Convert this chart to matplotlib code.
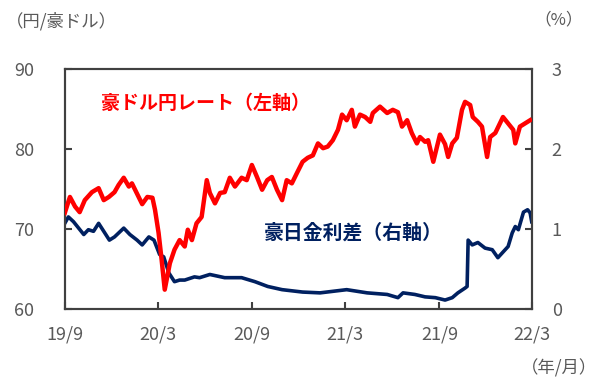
import matplotlib
matplotlib.use('Agg')
import matplotlib.pyplot as plt
import pandas as pd

plt.rcParams['font.family'] = ['Noto Sans CJK JP', 'DejaVu Sans']

# 豪ドル円レート (円/豪ドル, 左軸)
fx_dates = ['2019-09-01', '2019-09-11', '2019-09-21', '2019-09-30', '2019-10-10',
            '2019-10-24', '2019-11-06', '2019-11-16', '2019-11-26', '2019-12-07',
            '2019-12-15', '2019-12-25', '2020-01-04', '2020-01-10', '2020-01-20',
            '2020-01-30', '2020-02-09', '2020-02-19', '2020-02-24', '2020-03-02',
            '2020-03-08', '2020-03-14', '2020-03-24', '2020-04-02', '2020-04-12',
            '2020-04-22', '2020-04-28', '2020-05-06', '2020-05-15', '2020-05-25',
            '2020-06-04', '2020-06-10', '2020-06-20', '2020-06-30', '2020-07-09',
            '2020-07-19', '2020-07-29', '2020-08-11', '2020-08-21', '2020-08-31',
            '2020-09-10', '2020-09-20', '2020-09-30', '2020-10-09', '2020-10-19',
            '2020-10-29', '2020-11-07', '2020-11-17', '2020-11-27', '2020-12-08',
            '2020-12-18', '2020-12-28', '2021-01-07', '2021-01-17', '2021-01-26',
            '2021-02-05', '2021-02-15', '2021-02-23', '2021-03-04', '2021-03-14',
            '2021-03-20', '2021-03-30', '2021-04-09', '2021-04-19', '2021-04-24',
            '2021-05-08', '2021-05-22', '2021-06-02', '2021-06-12', '2021-06-20',
            '2021-06-30', '2021-07-09', '2021-07-19', '2021-07-25', '2021-08-04',
            '2021-08-10', '2021-08-20', '2021-09-02', '2021-09-12', '2021-09-18',
            '2021-09-26', '2021-10-05', '2021-10-15', '2021-10-21', '2021-10-31',
            '2021-11-05', '2021-11-15', '2021-11-23', '2021-12-03', '2021-12-09',
            '2021-12-19', '2022-01-03', '2022-01-13', '2022-01-23', '2022-01-27',
            '2022-02-05', '2022-02-15', '2022-02-25']
fx_values = [72.0, 74.0, 72.8, 72.1, 73.6,
             74.6, 75.1, 73.6, 74.0, 74.6,
             75.5, 76.4, 75.3, 75.7, 74.4,
             73.1, 74.0, 73.9, 72.4, 69.5,
             66.1, 62.4, 65.7, 67.4, 68.6,
             67.8, 69.9, 68.6, 70.7, 71.5,
             76.1, 74.5, 73.2, 74.5, 74.6,
             76.4, 75.3, 76.4, 76.1, 78.0,
             76.5, 74.9, 76.1, 76.5, 74.9,
             73.6, 76.1, 75.7, 77.0, 78.4,
             78.9, 79.2, 80.7, 80.1, 80.3,
             81.1, 82.4, 84.3, 83.6, 84.9,
             82.8, 84.3, 84.0, 83.4, 84.5,
             85.3, 84.5, 84.9, 84.6, 82.8,
             83.6, 82.0, 80.7, 81.5, 80.9,
             81.1, 78.4, 81.8, 80.6, 79.0,
             80.7, 81.4, 84.9, 85.9, 85.5,
             84.0, 83.4, 82.8, 79.0, 81.5,
             82.0, 84.0, 83.2, 82.4, 80.7,
             82.8, 83.2, 83.6]

# 豪日金利差 (%, 右軸)
spread_dates = ['2019-09-01', '2019-09-08', '2019-09-18', '2019-09-28', '2019-10-08',
                '2019-10-17', '2019-10-27', '2019-11-06', '2019-11-16', '2019-11-27',
                '2019-12-07', '2019-12-25', '2020-01-06', '2020-01-20', '2020-01-30',
                '2020-02-12', '2020-02-22', '2020-03-04', '2020-03-12', '2020-03-22',
                '2020-04-02', '2020-04-12', '2020-04-22', '2020-05-11', '2020-05-21',
                '2020-06-10', '2020-07-09', '2020-08-11', '2020-09-06', '2020-10-01',
                '2020-10-29', '2020-12-08', '2021-01-11', '2021-03-04', '2021-04-13',
                '2021-05-22', '2021-06-12', '2021-06-22', '2021-07-15', '2021-08-04',
                '2021-08-24', '2021-09-12', '2021-09-26', '2021-10-07', '2021-10-21',
                '2021-10-25', '2021-10-27', '2021-11-04', '2021-11-15', '2021-11-29',
                '2021-12-13', '2021-12-24', '2022-01-03', '2022-01-13', '2022-01-21',
                '2022-01-27', '2022-02-02', '2022-02-12', '2022-02-20', '2022-02-25',
                '2022-02-28']
spread_values = [1.07, 1.15, 1.09, 1.01, 0.93,
                 0.99, 0.97, 1.07, 0.97, 0.86,
                 0.90, 1.01, 0.93, 0.86, 0.80,
                 0.90, 0.86, 0.68, 0.65, 0.45,
                 0.34, 0.36, 0.36, 0.40, 0.39,
                 0.43, 0.39, 0.39, 0.34, 0.28,
                 0.24, 0.21, 0.20, 0.24, 0.20,
                 0.18, 0.14, 0.20, 0.18, 0.15,
                 0.14, 0.11, 0.14, 0.20, 0.26,
                 0.28, 0.86, 0.80, 0.83, 0.76,
                 0.74, 0.64, 0.71, 0.78, 0.95,
                 1.03, 0.99, 1.21, 1.24, 1.20,
                 1.09]

xtick_dates = ['2019-09-01', '2020-03-01', '2020-09-01', '2021-03-01', '2021-09-01', '2022-03-01']
xtick_labels = ['19/9', '20/3', '20/9', '21/3', '21/9', '22/3']

RED = '#ff0000'
NAVY = '#002060'
GRAY = '#595959'
FRAME = '#404040'

fig = plt.figure(figsize=(6, 3.88), dpi=100)
ax = fig.add_axes([0.108, 0.204, 0.779, 0.618])
ax2 = ax.twinx()

ax.plot(pd.to_datetime(fx_dates), fx_values, color=RED, lw=3.2, zorder=3)
ax2.plot(pd.to_datetime(spread_dates), spread_values, color=NAVY, lw=2.6, zorder=2)

# 為替レートを前面に
ax.set_zorder(ax2.get_zorder() + 1)
ax.patch.set_visible(False)

ax.set_xlim(pd.Timestamp('2019-09-01'), pd.Timestamp('2022-03-01'))
ax.set_ylim(60, 90)
ax2.set_ylim(0, 3)
ax.set_yticks([60, 70, 80, 90])
ax2.set_yticks([0, 1, 2, 3])
ax.set_xticks(pd.to_datetime(xtick_dates))
ax.set_xticklabels(xtick_labels)

for a in (ax, ax2):
    for s in a.spines.values():
        s.set_color(FRAME)
        s.set_linewidth(1.5)
ax.tick_params(axis='y', direction='in', length=5, width=1.5, color=FRAME,
               labelsize=13, labelcolor=GRAY, pad=22)
ax.tick_params(axis='x', direction='in', length=5, width=1.5, color=FRAME,
               labelsize=13, labelcolor=GRAY, pad=12)
ax2.tick_params(axis='y', direction='in', length=5, width=1.5, color=FRAME,
                labelsize=13, labelcolor=GRAY, pad=14)

fig.text(0.01, 0.945, '（円/豪ドル）', fontsize=12.5, color=GRAY, va='center', ha='left')
fig.text(0.89, 0.948, '（%）', fontsize=12, color=GRAY, va='center', ha='left')
fig.text(0.868, 0.05, '（年/月）', fontsize=12.5, color=GRAY, va='center', ha='left')

ax.text(0.077, 0.855, '豪ドル円レート（左軸）', transform=ax.transAxes, fontsize=13.7,
        fontweight='bold', color=RED, va='center', ha='left')
ax.text(0.427, 0.322, '豪日金利差（右軸）', transform=ax.transAxes, fontsize=14.3,
        fontweight='bold', color=NAVY, va='center', ha='left')

fig.savefig('out.png', dpi=100)
plt.close(fig)
